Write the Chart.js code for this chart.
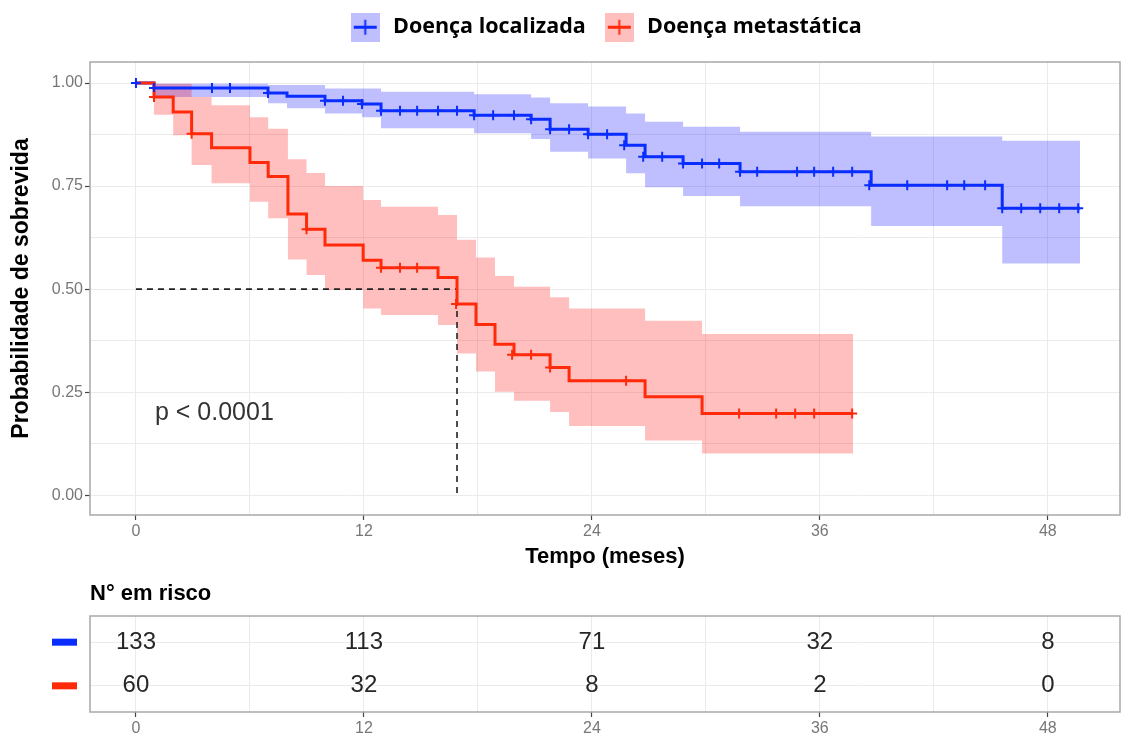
<!DOCTYPE html>
<html>
<head>
<meta charset="utf-8">
<script src="https://cdn.jsdelivr.net/npm/chart.js@4.4.1/dist/chart.umd.min.js"></script>
<style>
  html, body { margin: 0; padding: 0; background: #fff; }
  canvas { display: block; }
</style>
</head>
<body>
<canvas id="kmChart" width="1122" height="575"></canvas>
<canvas id="riskChart" width="1122" height="161"></canvas>
<script>
// Group names
const seriesNames = ['Doença localizada', 'Doença metastática'];

// Doença localizada: step times (months), survival, CI bounds
const blueTimes = [0, 0.95, 6.95, 7.95, 9.95, 11.9, 12.9, 17.8, 20.8, 21.8, 23.8, 25.8, 26.8, 28.8, 31.8, 38.7, 45.6, 49.7];
const blueSurv  = [1.0, 0.988, 0.976, 0.968, 0.957, 0.949, 0.933, 0.922, 0.912, 0.888, 0.876, 0.849, 0.821, 0.805, 0.785, 0.752, 0.696, 0.696];
const blueUpper = [1.0, 0.998, 0.995, 0.995, 0.987, 0.987, 0.979, 0.973, 0.965, 0.951, 0.943, 0.926, 0.906, 0.894, 0.882, 0.870, 0.860, 0.860];
const blueLower = [1.0, 0.966, 0.951, 0.939, 0.926, 0.917, 0.890, 0.878, 0.864, 0.833, 0.817, 0.781, 0.747, 0.726, 0.701, 0.653, 0.562, 0.562];

// Doença metastática
const redTimes = [0, 0.95, 1.96, 2.93, 3.98, 6.0, 6.96, 8.0, 8.98, 9.95, 11.96, 12.9, 15.9, 16.9, 17.9, 18.9, 19.9, 21.8, 22.8, 26.8, 29.8, 37.75];
const redSurv  = [1.0, 0.966, 0.930, 0.877, 0.843, 0.807, 0.773, 0.682, 0.645, 0.607, 0.570, 0.552, 0.528, 0.464, 0.414, 0.366, 0.341, 0.310, 0.278, 0.239, 0.198, 0.198];
const redUpper = [1.0, 0.998, 0.998, 0.966, 0.946, 0.917, 0.889, 0.815, 0.782, 0.750, 0.716, 0.700, 0.680, 0.620, 0.577, 0.532, 0.506, 0.480, 0.453, 0.423, 0.391, 0.391];
const redLower = [1.0, 0.923, 0.873, 0.801, 0.757, 0.712, 0.672, 0.572, 0.534, 0.498, 0.453, 0.437, 0.413, 0.344, 0.300, 0.251, 0.229, 0.202, 0.168, 0.133, 0.101, 0.101];

// Censored observations
const blueCensorT = [0, 0.95, 4.0, 4.95, 6.95, 9.95, 10.9, 11.9, 12.9, 13.9, 14.8, 15.9, 16.9, 17.8, 18.8, 19.9, 20.8, 21.8, 22.8, 23.8, 24.8, 25.7, 26.7, 27.7, 28.8, 29.8, 30.7, 31.8, 32.7, 34.8, 35.7, 36.7, 37.7, 38.6, 40.6, 42.7, 43.6, 44.7, 45.6, 46.6, 47.6, 48.6, 49.6];
const blueCensorS = [1.0, 0.988, 0.988, 0.988, 0.976, 0.957, 0.957, 0.949, 0.933, 0.933, 0.933, 0.933, 0.933, 0.922, 0.922, 0.922, 0.912, 0.888, 0.888, 0.876, 0.876, 0.849, 0.821, 0.821, 0.805, 0.805, 0.805, 0.785, 0.785, 0.785, 0.785, 0.785, 0.785, 0.752, 0.752, 0.752, 0.752, 0.752, 0.696, 0.696, 0.696, 0.696, 0.696];
const redCensorT = [0.95, 2.93, 8.98, 12.9, 13.9, 14.8, 16.85, 19.8, 20.8, 21.8, 25.8, 31.75, 33.7, 34.7, 35.7, 37.7];
const redCensorS = [0.966, 0.877, 0.645, 0.552, 0.552, 0.552, 0.464, 0.341, 0.341, 0.310, 0.278, 0.198, 0.198, 0.198, 0.198, 0.198];

// Median survival of the metastatic group
const medianTime = 16.9;
const medianSurv = 0.5;
const pValueText = 'p < 0.0001';

// Axis ticks
const gridTimes = [0, 6, 12, 18, 24, 30, 36, 42, 48];
const gridSurv = [0, 0.125, 0.25, 0.375, 0.5, 0.625, 0.75, 0.875, 1];

// Number at risk table
const riskTimes = [0, 12, 24, 36, 48];
const riskLocal = [133, 113, 71, 32, 8];
const riskMeta  = [60, 32, 8, 2, 0];
const riskRows  = [2, 1];

const BLUE = '#0a2dff';
const RED = '#ff2a0a';
const BLUE_BAND = 'rgba(0, 0, 255, 0.25)';
const RED_BAND = 'rgba(255, 0, 0, 0.25)';
const GRID = '#ebebeb';
const BORDER = '#a8a8a8';
const TICK_TEXT = '#777';

Chart.defaults.font.family = "'Liberation Sans', Arial, sans-serif";

function toPoints(xs, ys) {
  return xs.map((x, i) => ({x: x, y: ys[i]}));
}

// legend key: shaded square with the cross mark
function makeKey(fill, line) {
  const c = document.createElement('canvas');
  c.width = 29;
  c.height = 29;
  const g = c.getContext('2d');
  g.fillStyle = fill;
  g.fillRect(0, 0, 29, 29);
  g.strokeStyle = line;
  g.lineWidth = 3;
  g.beginPath(); g.moveTo(3, 14.5); g.lineTo(26, 14.5); g.stroke();
  g.lineWidth = 2;
  g.beginPath(); g.moveTo(14.5, 7); g.lineTo(14.5, 22); g.stroke();
  return c;
}
const legendKeys = [makeKey(BLUE_BAND, BLUE), makeKey(RED_BAND, RED)];

const panelBorder = {
  id: 'panelBorder',
  afterDatasetsDraw(chart) {
    const {ctx, chartArea: a} = chart;
    ctx.save();
    ctx.strokeStyle = BORDER;
    ctx.lineWidth = 1.5;
    ctx.strokeRect(a.left, a.top, a.width, a.height);
    ctx.restore();
  }
};

const pValueLabel = {
  id: 'pValueLabel',
  afterDatasetsDraw(chart) {
    const {ctx, scales} = chart;
    ctx.save();
    ctx.font = "25px 'Liberation Sans', Arial, sans-serif";
    ctx.fillStyle = '#333';
    ctx.textAlign = 'left';
    ctx.textBaseline = 'middle';
    ctx.fillText(pValueText, scales.x.getPixelForValue(1), scales.y.getPixelForValue(0.2));
    ctx.restore();
  }
};

function stepLine(data, color, order) {
  return {data: data, borderColor: color, borderWidth: 3, stepped: 'before',
          pointRadius: 0, fill: false, order: order};
}
function band(data, color, fillTarget, order) {
  return {data: data, borderWidth: 0, borderColor: 'rgba(0,0,0,0)', backgroundColor: color,
          stepped: 'before', pointRadius: 0, fill: fillTarget, order: order};
}
function censor(data, color, order) {
  return {data: data, showLine: false, pointStyle: 'cross', pointRadius: 5,
          pointBorderWidth: 2, pointBorderColor: color, order: order};
}

const isMajorTime = v => v % 12 === 0;
const isMajorSurv = v => Math.abs(v * 4 - Math.round(v * 4)) < 1e-6;

new Chart(document.getElementById('kmChart'), {
  type: 'line',
  data: {
    datasets: [
      band(toPoints(blueTimes, blueUpper), BLUE_BAND, false, 10),
      band(toPoints(blueTimes, blueLower), BLUE_BAND, '-1', 10),
      band(toPoints(redTimes, redUpper), RED_BAND, false, 9),
      band(toPoints(redTimes, redLower), RED_BAND, '-1', 9),
      {data: [{x: 0, y: medianSurv}, {x: medianTime, y: medianSurv}], borderColor: '#222',
       borderWidth: 1.6, borderDash: [6, 5], pointRadius: 0, fill: false, order: 5},
      {data: [{x: medianTime, y: medianSurv}, {x: medianTime, y: 0}], borderColor: '#222',
       borderWidth: 1.6, borderDash: [6, 5], pointRadius: 0, fill: false, order: 5},
      stepLine(toPoints(blueTimes, blueSurv), BLUE, 3),
      stepLine(toPoints(redTimes, redSurv), RED, 2),
      censor(toPoints(blueCensorT, blueCensorS), BLUE, 1),
      censor(toPoints(redCensorT, redCensorS), RED, 0)
    ]
  },
  options: {
    responsive: false,
    devicePixelRatio: 1,
    animation: false,
    events: [],
    layout: {autoPadding: false, padding: {top: 0, right: 2, bottom: 0, left: 0}},
    scales: {
      x: {
        type: 'linear',
        min: -2.42,
        max: 51.8,
        afterBuildTicks: s => { s.ticks = gridTimes.map(v => ({value: v})); },
        afterFit: s => { s.height = 60; },
        ticks: {autoSkip: false, maxRotation: 0, padding: 2, color: TICK_TEXT, font: {size: 16},
                callback: v => isMajorTime(v) ? String(v) : ''},
        grid: {color: GRID, lineWidth: 1, tickLength: 5, tickWidth: 1.2,
               tickColor: c => (c.tick && isMajorTime(c.tick.value)) ? '#444' : 'rgba(0,0,0,0)'},
        border: {display: false},
        title: {display: true, text: 'Tempo (meses)', color: '#000',
                font: {size: 22, weight: 'bold'}, padding: {top: 0, bottom: 5}}
      },
      y: {
        type: 'linear',
        min: -0.048,
        max: 1.051,
        afterBuildTicks: s => { s.ticks = gridSurv.map(v => ({value: v})); },
        afterFit: s => { s.width = 90; },
        ticks: {autoSkip: false, padding: 2, color: TICK_TEXT, font: {size: 16},
                callback: v => isMajorSurv(v) ? v.toFixed(2) : ''},
        grid: {color: GRID, lineWidth: 1, tickLength: 5, tickWidth: 1.2,
               tickColor: c => (c.tick && isMajorSurv(c.tick.value)) ? '#444' : 'rgba(0,0,0,0)'},
        border: {display: false},
        title: {display: true, text: 'Probabilidade de sobrevida', color: '#000',
                font: {size: 23, weight: 'bold'}, padding: {top: 8, bottom: 0}}
      }
    },
    plugins: {
      legend: {
        position: 'top',
        weight: 3000,
        fullSize: false,
        labels: {
          usePointStyle: true,
          pointStyleWidth: 34,
          padding: 16.5,
          color: '#000',
          font: {family: "'Open Sans', sans-serif", size: 21.5, weight: 'bold'},
          generateLabels: () => seriesNames.map((name, i) => ({
            text: name,
            pointStyle: legendKeys[i],
            fillStyle: i === 0 ? BLUE_BAND : RED_BAND,
            strokeStyle: i === 0 ? BLUE : RED,
            lineWidth: 0,
            hidden: false,
            datasetIndex: i
          }))
        }
      },
      // empty title only used as spacing under the legend
      title: {display: true, text: '', fullSize: false, font: {size: 10, lineHeight: 1},
              padding: {top: 0, bottom: 4}},
      tooltip: {enabled: false}
    }
  },
  plugins: [panelBorder, pValueLabel]
});

// risk table
const riskValues = [riskLocal, riskMeta];
const riskColors = [BLUE, RED];

const riskText = {
  id: 'riskText',
  afterDatasetsDraw(chart) {
    const {ctx, chartArea: a} = chart;
    ctx.save();
    ctx.font = "24px 'Liberation Sans', Arial, sans-serif";
    ctx.fillStyle = '#262626';
    ctx.textAlign = 'center';
    ctx.textBaseline = 'middle';
    riskValues.forEach((vals, i) => {
      const meta = chart.getDatasetMeta(i);
      meta.data.forEach((pt, j) => ctx.fillText(String(vals[j]), pt.x, pt.y));
      // coloured row key
      ctx.fillStyle = riskColors[i];
      ctx.fillRect(a.left - 38, meta.data[0].y - 3.5, 25, 7);
      ctx.fillStyle = '#262626';
    });
    ctx.restore();
  }
};

new Chart(document.getElementById('riskChart'), {
  type: 'line',
  data: {
    datasets: riskRows.map(r => ({
      data: riskTimes.map(t => ({x: t, y: r})),
      showLine: false,
      pointRadius: 0
    }))
  },
  options: {
    responsive: false,
    devicePixelRatio: 1,
    animation: false,
    events: [],
    layout: {autoPadding: false, padding: {top: 0, right: 2, bottom: 0, left: 0}},
    scales: {
      x: {
        type: 'linear',
        min: -2.42,
        max: 51.8,
        afterBuildTicks: s => { s.ticks = gridTimes.map(v => ({value: v})); },
        afterFit: s => { s.height = 24; },
        ticks: {autoSkip: false, maxRotation: 0, padding: 2, color: TICK_TEXT, font: {size: 16},
                callback: v => isMajorTime(v) ? String(v) : ''},
        grid: {color: GRID, lineWidth: 1, tickLength: 5, tickWidth: 1.2,
               tickColor: c => (c.tick && isMajorTime(c.tick.value)) ? '#444' : 'rgba(0,0,0,0)'},
        border: {display: false}
      },
      y: {
        type: 'linear',
        min: 0.4,
        max: 2.6,
        afterBuildTicks: s => { s.ticks = riskRows.map(v => ({value: v})); },
        afterFit: s => { s.width = 90; },
        ticks: {callback: () => ''},
        grid: {color: GRID, lineWidth: 1, drawTicks: false},
        border: {display: false}
      }
    },
    plugins: {
      legend: {display: false},
      title: {display: true, text: 'N° em risco', align: 'start', fullSize: false, color: '#000',
              font: {size: 22, weight: 'bold'}, padding: {top: 6, bottom: 8.6}},
      tooltip: {enabled: false}
    }
  },
  plugins: [panelBorder, riskText]
});
</script>
</body>
</html>
